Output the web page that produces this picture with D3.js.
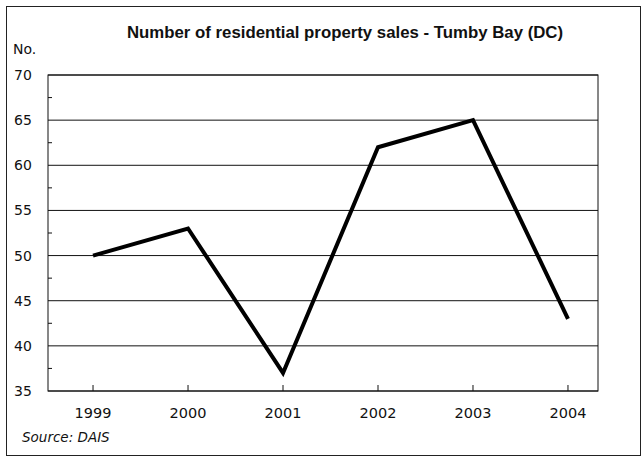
<!DOCTYPE html>
<html><head><meta charset="utf-8">
<script src="https://cdn.jsdelivr.net/npm/d3@7"></script>
<style>body{margin:0;background:#fff}svg{display:block}text{font-family:"DejaVu Sans",sans-serif;fill:#111}</style>
</head><body><svg id="c" width="642" height="459"></svg>
<script>
const years = [1999, 2000, 2001, 2002, 2003, 2004];
const sales = [50, 53, 37, 62, 65, 43];
const yTicks = [35, 40, 45, 50, 55, 60, 65, 70];
const yMinor = [37.5, 42.5, 47.5, 52.5, 57.5, 62.5, 67.5];
const title = "Number of residential property sales - Tumby Bay (DC)";
const yLabel = "No.";
const source = "Source: DAIS";

const svg = d3.select("#c");
const L = 48, R = 598, T = 75, B = 391;
const x = d3.scaleLinear().domain([1998.526, 2004.316]).range([L, R]);
const y = d3.scaleLinear().domain([35, 70]).range([B, T]);

svg.append("rect").attr("x", 6.5).attr("y", 6.5).attr("width", 634).attr("height", 449)
  .attr("fill", "none").attr("stroke", "#222").attr("stroke-width", 1);

svg.append("text").attr("x", 345).attr("y", 38).attr("text-anchor", "middle")
  .style("font-family", "'Liberation Sans', Arial, sans-serif")
  .attr("font-size", 16.8).attr("font-weight", "bold").text(title);
svg.append("text").attr("x", 13).attr("y", 54).attr("font-size", 14).text(yLabel);

svg.append("g").selectAll("line").data(yTicks).join("line")
  .attr("x1", L).attr("x2", R).attr("y1", d => y(d)).attr("y2", d => y(d))
  .attr("stroke", "#111").attr("stroke-width", 1);
svg.append("rect").attr("x", L).attr("y", T).attr("width", R - L).attr("height", B - T)
  .attr("fill", "none").attr("stroke", "#111").attr("stroke-width", 1);

svg.append("g").selectAll("line").data(yMinor).join("line")
  .attr("x1", L).attr("x2", L + 4).attr("y1", d => y(d)).attr("y2", d => y(d))
  .attr("stroke", "#111");

svg.append("g").selectAll("text").data(yTicks).join("text")
  .attr("x", 14).attr("y", d => y(d) + 5).attr("font-size", 14).text(d => d);

svg.append("g").selectAll("line").data(years).join("line")
  .attr("x1", d => x(d)).attr("x2", d => x(d)).attr("y1", B).attr("y2", B - 6)
  .attr("stroke", "#111");
svg.append("g").selectAll("text").data(years).join("text")
  .attr("x", d => x(d)).attr("y", 418).attr("text-anchor", "middle").attr("font-size", 14.5).text(d => d);

const data = years.map((yr, i) => ({yr, v: sales[i]}));
svg.append("path").datum(data)
  .attr("d", d3.line().x(d => x(d.yr)).y(d => y(d.v)))
  .attr("fill", "none").attr("stroke", "#000").attr("stroke-width", 4).attr("stroke-linejoin", "miter");

svg.append("text").attr("x", 22).attr("y", 442).attr("font-size", 13.5).attr("font-style", "italic").text(source);
</script></body></html>
